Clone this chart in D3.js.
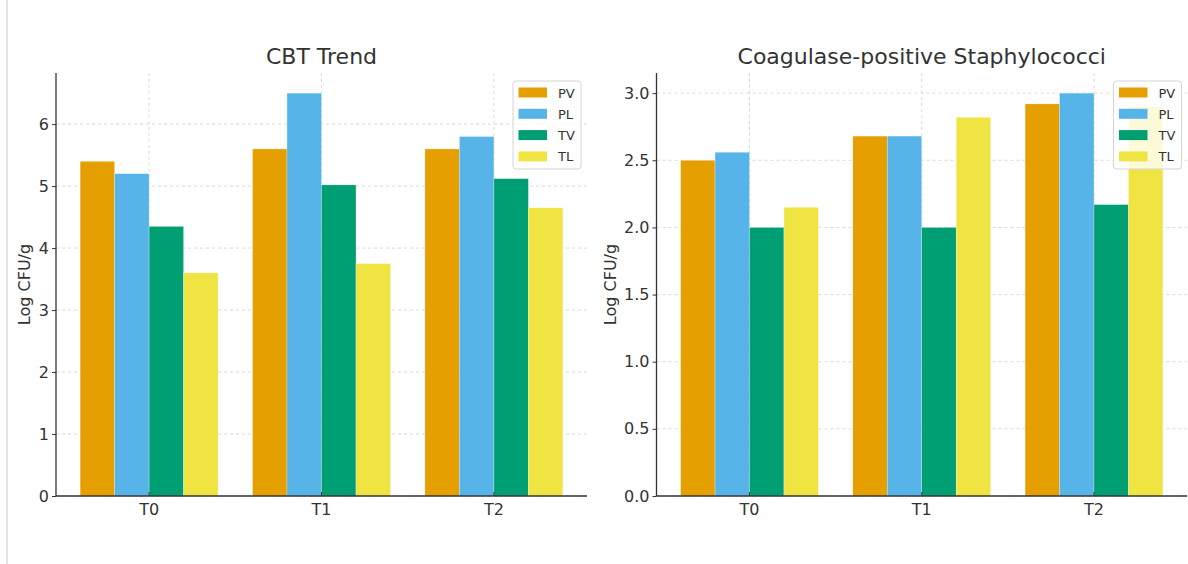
<!DOCTYPE html>
<html>
<head>
<meta charset="utf-8">
<script src="https://cdn.jsdelivr.net/npm/d3@7/dist/d3.min.js"></script>
<style>
  html, body { margin: 0; padding: 0; background: #fff; }
  svg { display: block; font-family: "DejaVu Sans", sans-serif; }
</style>
</head>
<body>
<svg id="chart" width="1188" height="564"></svg>
<script>
const categories = ["T0", "T1", "T2"];
const seriesNames = ["PV", "PL", "TV", "TL"];
const seriesColors = ["#E69F00", "#56B4E9", "#009E73", "#F0E442"];

// CBT Trend (Log CFU/g)
const cbtPV = [5.4, 5.6, 5.6];
const cbtPL = [5.2, 6.5, 5.8];
const cbtTV = [4.35, 5.02, 5.12];
const cbtTL = [3.6, 3.75, 4.65];
const cbtTicks = [0, 1, 2, 3, 4, 5, 6];

// Coagulase-positive Staphylococci (Log CFU/g)
const cpsPV = [2.5, 2.68, 2.92];
const cpsPL = [2.56, 2.68, 3.0];
const cpsTV = [2.0, 2.0, 2.17];
const cpsTL = [2.15, 2.82, 2.9];
const cpsTicks = [0, 0.5, 1.0, 1.5, 2.0, 2.5, 3.0];

const svg = d3.select("#chart");

// faint left border
svg.append("line").attr("x1", 7).attr("x2", 7).attr("y1", 0).attr("y2", 564)
  .attr("stroke", "#e2e2e2").attr("stroke-width", 2);

function drawPanel(opts) {
  const { x0, x1, yTop, yBottom, title, series, ticks, fmt, legendX, labelOffset } = opts;
  const maxV = d3.max(series.flat());
  const x = d3.scaleLinear().domain([-0.54, 2.54]).range([x0, x1]);
  const y = d3.scaleLinear().domain([0, maxV * 1.05]).range([yBottom, yTop]);
  const g = svg.append("g");

  // grid
  g.append("g").selectAll("line").data(ticks).join("line")
    .attr("x1", x0).attr("x2", x1)
    .attr("y1", d => y(d)).attr("y2", d => y(d))
    .attr("stroke", "#cfcfcf").attr("stroke-width", 0.8).attr("stroke-dasharray", "3,3");
  g.append("g").selectAll("line").data(categories).join("line")
    .attr("x1", (d, i) => x(i)).attr("x2", (d, i) => x(i))
    .attr("y1", yTop).attr("y2", yBottom)
    .attr("stroke", "#cfcfcf").attr("stroke-width", 0.8).attr("stroke-dasharray", "3,3");

  // bars
  const bw = 0.2;
  series.forEach((vals, j) => {
    g.append("g").selectAll("rect").data(vals).join("rect")
      .attr("x", (d, i) => x(i + (j - 1.5) * bw - bw / 2))
      .attr("width", x(bw) - x(0))
      .attr("y", d => y(d))
      .attr("height", d => y(0) - y(d))
      .attr("fill", seriesColors[j])
      .attr("stroke", "#ffffff").attr("stroke-opacity", 0.5).attr("stroke-width", 0.5);
  });

  // y axis
  const yAxis = d3.axisLeft(y).tickValues(ticks).tickFormat(fmt).tickSize(4).tickPadding(3);
  const ya = g.append("g").attr("transform", `translate(${x0},0)`).call(yAxis);
  ya.select(".domain").attr("d", `M0,${yTop}V${yBottom}`).attr("stroke", "#333").attr("stroke-width", 1.3);
  ya.selectAll(".tick line").attr("stroke", "#333");
  ya.selectAll(".tick text").attr("fill", "#333").style("font-size", "16px").style("font-family", "DejaVu Sans");

  // x axis
  const xa = g.append("g").attr("transform", `translate(0,${yBottom})`);
  xa.append("line").attr("x1", x0).attr("x2", x1).attr("stroke", "#333").attr("stroke-width", 1.3);
  const xt = xa.selectAll("g").data(categories).join("g").attr("transform", (d, i) => `translate(${x(i)},0)`);
  xt.append("line").attr("y1", 0).attr("y2", -4).attr("stroke", "#333");
  xt.append("text").attr("y", 19).attr("text-anchor", "middle").attr("fill", "#333")
    .style("font-size", "16px").text(d => d);

  // y label
  g.append("text").attr("transform", `translate(${x0 - labelOffset},${(yTop + yBottom) / 2}) rotate(-90)`)
    .attr("text-anchor", "middle").attr("fill", "#333").style("font-size", "16px").text("Log CFU/g");

  // title
  g.append("text").attr("x", (x0 + x1) / 2).attr("y", 64).attr("text-anchor", "middle")
    .attr("fill", "#333").style("font-size", "22px").text(title);

  // legend
  const lg = g.append("g").attr("transform", `translate(${legendX},81)`);
  lg.append("rect").attr("width", 68).attr("height", 88).attr("rx", 3)
    .attr("fill", "#fff").attr("fill-opacity", 0.8).attr("stroke", "#d5d5d5");
  const items = lg.selectAll("g").data(seriesNames).join("g")
    .attr("transform", (d, i) => `translate(0,${11.5 + i * 21.3})`);
  items.append("rect").attr("x", 5.5).attr("y", -5).attr("width", 28.5).attr("height", 10)
    .attr("fill", (d, i) => seriesColors[i]);
  items.append("text").attr("x", 45).attr("y", 5).attr("fill", "#333")
    .style("font-size", "13px").text(d => d);
}

drawPanel({
  x0: 56, x1: 587, yTop: 73, yBottom: 496, title: "CBT Trend",
  series: [cbtPV, cbtPL, cbtTV, cbtTL], ticks: cbtTicks, fmt: d3.format("d"), legendX: 513, labelOffset: 26
});
drawPanel({
  x0: 656.5, x1: 1187, yTop: 73, yBottom: 496, title: "Coagulase-positive Staphylococci",
  series: [cpsPV, cpsPL, cpsTV, cpsTL], ticks: cpsTicks, fmt: d3.format(".1f"), legendX: 1113.5, labelOffset: 40.5
});
</script>
</body>
</html>
